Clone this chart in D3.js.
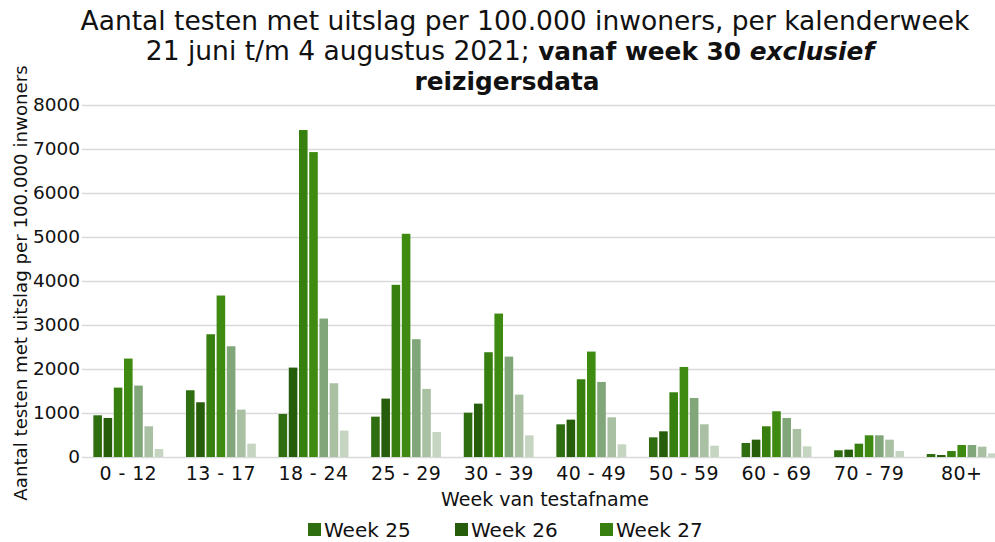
<!DOCTYPE html>
<html>
<head>
<meta charset="utf-8">
<script src="https://cdn.jsdelivr.net/npm/d3@7"></script>
<style>
  html, body { margin: 0; padding: 0; background: #fff; overflow: hidden; }
  svg { display: block; }
</style>
</head>
<body>
<div id="chart"></div>
<script>
// leeftijdsgroepen
const ageGroups = ['0 - 12', '13 - 17', '18 - 24', '25 - 29', '30 - 39', '40 - 49', '50 - 59', '60 - 69', '70 - 79', '80+'];
const weeks = ['Week 25', 'Week 26', 'Week 27', 'Week 28', 'Week 29', 'Week 30', 'Week 31'];
const weekColors = ['#2e6e10', '#265d0b', '#37800f', '#3f8b12', '#80a67a', '#a9c0a3', '#c6d5c2'];

// aantal testen per 100.000, per week (25..31)
const week25 = [948, 1517, 978, 917, 1008, 743, 447, 318, 152, 68];
const week26 = [887, 1244, 2032, 1327, 1213, 849, 584, 394, 167, 45];
const week27 = [1577, 2790, 7431, 3913, 2381, 1767, 1471, 698, 303, 136];
const week28 = [2237, 3670, 6930, 5073, 3260, 2396, 2047, 1039, 493, 273];
const week29 = [1623, 2517, 3147, 2677, 2282, 1706, 1342, 887, 493, 273];
const week30 = [698, 1077, 1676, 1547, 1418, 902, 743, 637, 394, 235];
const week31 = [182, 303, 600, 569, 493, 288, 258, 243, 136, 83];
const series = [week25, week26, week27, week28, week29, week30, week31];

const yTicks = [0, 1000, 2000, 3000, 4000, 5000, 6000, 7000, 8000];

const W = 995, H = 542;
const margin = { left: 82, right: -13, top: 105, bottom: 85 };
const FONT = '"DejaVu Sans", Verdana, sans-serif';

const svg = d3.select('#chart').append('svg')
    .attr('width', W).attr('height', H)
    .style('font-family', FONT);

const x0 = d3.scaleBand().domain(ageGroups)
    .range([margin.left, W - margin.right])
    .paddingInner(0.21).paddingOuter(0.105);
const x1 = d3.scaleBand().domain(weeks)
    .range([0, x0.bandwidth()])
    .padding(0.16);
const y = d3.scaleLinear().domain([0, 8000]).range([H - margin.bottom, margin.top]);

// rasterlijnen
svg.append('g').selectAll('line').data(yTicks).join('line')
    .attr('x1', margin.left).attr('x2', W)
    .attr('y1', d => y(d) + 0.5).attr('y2', d => y(d) + 0.5)
    .attr('stroke', '#d9d9d9').attr('stroke-width', 1.5);

// staven
const groups = svg.append('g').selectAll('g').data(ageGroups).join('g')
    .attr('transform', d => `translate(${x0(d)},0)`);

groups.selectAll('rect')
    .data((d, i) => weeks.map((w, j) => ({ week: w, value: series[j][i], color: weekColors[j] })))
    .join('rect')
    .attr('x', d => x1(d.week))
    .attr('width', x1.bandwidth())
    .attr('y', d => y(d.value))
    .attr('height', d => y(0) - y(d.value))
    .attr('fill', d => d.color);

// y-as labels
const yAxis = svg.append('g')
    .attr('transform', `translate(${margin.left - 2},0)`)
    .call(d3.axisLeft(y).tickValues(yTicks).tickFormat(d3.format('d')).tickSize(0).tickPadding(0));
yAxis.select('.domain').remove();
yAxis.selectAll('text').attr('font-size', 18.5).attr('fill', '#111')
    .style('font-family', FONT);

// x-as labels
const xAxis = svg.append('g')
    .attr('transform', `translate(0,${y(0)})`)
    .call(d3.axisBottom(x0).tickSize(0).tickPadding(10));
xAxis.select('.domain').remove();
xAxis.selectAll('text').attr('font-size', 19).attr('fill', '#111')
    .attr('letter-spacing', 0.4)
    .style('font-family', FONT);

// astitels
svg.append('text')
    .attr('x', (margin.left + W - margin.right) / 2).attr('y', 506)
    .attr('text-anchor', 'middle').attr('font-size', 19).attr('fill', '#111')
    .text('Week van testafname');

svg.append('text')
    .attr('transform', 'translate(27,283) rotate(-90)')
    .attr('text-anchor', 'middle').attr('font-size', 18.2).attr('fill', '#111')
    .text('Aantal testen met uitslag per 100.000 inwoners');

// titel
const title = svg.append('g').attr('fill', '#111').attr('text-anchor', 'middle');
title.append('text').attr('x', 525).attr('y', 30).attr('font-size', 26.5)
    .text('Aantal testen met uitslag per 100.000 inwoners, per kalenderweek');
const t2 = title.append('text').attr('x', 510).attr('y', 60).attr('font-size', 26.5);
t2.append('tspan').text('21 juni t/m 4 augustus 2021; ');
t2.append('tspan').attr('font-weight', 'bold').attr('font-size', 24.8).text('vanaf week 30 ');
t2.append('tspan').attr('font-weight', 'bold').attr('font-style', 'italic').attr('font-size', 24.8).text('exclusief');
title.append('text').attr('x', 507).attr('y', 90).attr('font-size', 24.8)
    .attr('font-weight', 'bold').text('reizigersdata');

// legenda (eerste rij)
const legendItems = weeks.slice(0, 3);
const legendX = [308, 455, 600];
const legend = svg.append('g').selectAll('g').data(legendItems).join('g')
    .attr('transform', (d, i) => `translate(${legendX[i]},523)`);
legend.append('rect').attr('width', 13).attr('height', 13)
    .attr('fill', (d, i) => weekColors[i]);
legend.append('text').attr('x', 16).attr('y', 14).attr('font-size', 20).attr('fill', '#111')
    .text(d => d);
</script>
</body>
</html>
